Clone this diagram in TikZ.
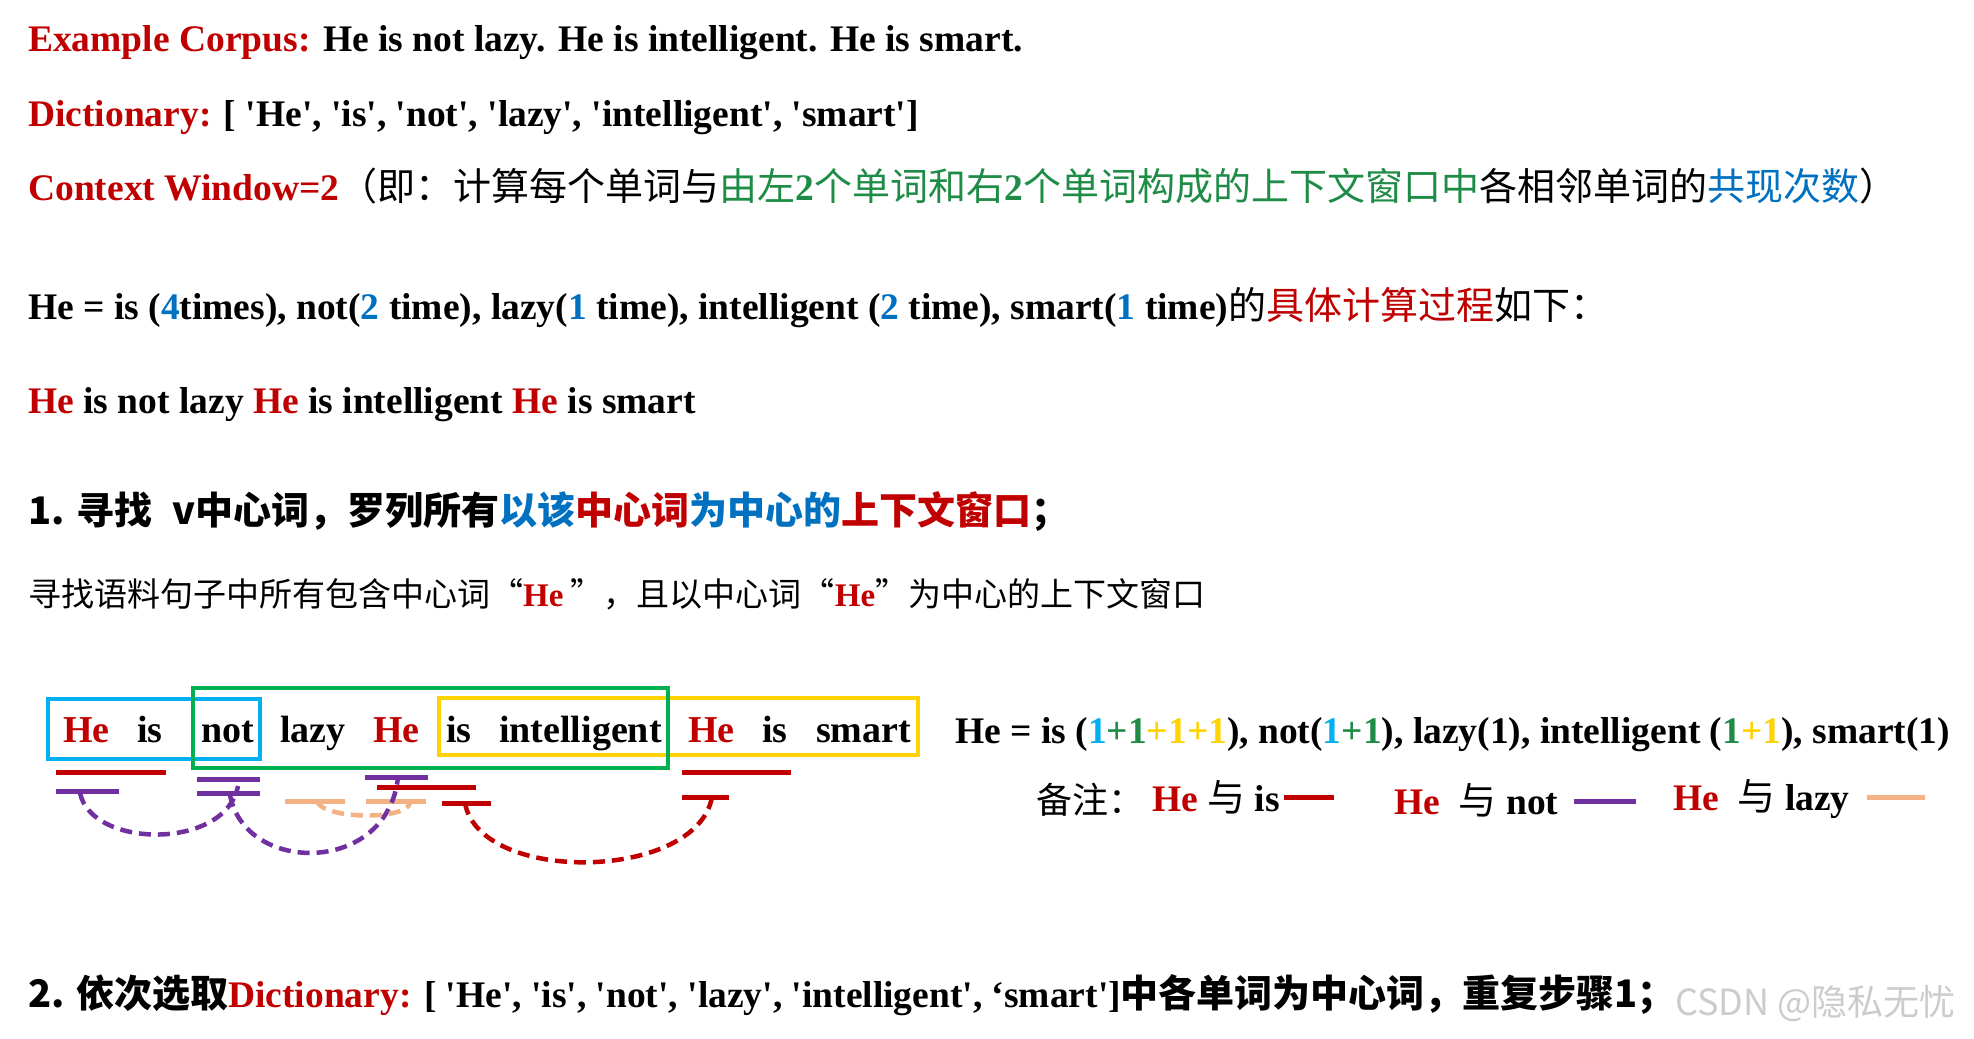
\documentclass[tikz,border=0pt]{standalone}
\usepackage{fontspec}
\setmainfont{Liberation Serif}
\newfontfamily\zh{Noto Sans CJK SC}

\definecolor{myred}{RGB}{192,0,0}
\definecolor{myblue}{RGB}{0,112,192}
\definecolor{mygreen}{RGB}{30,140,70}
\definecolor{boxblue}{RGB}{0,176,240}
\definecolor{boxgreen}{RGB}{0,176,80}
\definecolor{boxyellow}{RGB}{255,210,0}
\definecolor{mypurple}{RGB}{112,48,160}
\definecolor{mypeach}{RGB}{244,177,131}

\tikzset{
    line text/.style={anchor=base west, inner sep=0pt, font=\bfseries\fontsize{37.5}{40}\selectfont},
    word/.style={anchor=base west, inner sep=0pt, font=\bfseries\fontsize{38}{40}\selectfont},
    window/.style={draw, line width=4.5pt},
    pair bar/.style={line width=5pt},
    pair arc/.style={line width=4.5pt, dash pattern=on 12pt off 7pt},
}
\newcommand{\cn}[2][38]{{\zh\mdseries\fontsize{#1}{#1}\selectfont #2}}
\newcommand{\cnb}[2][38]{{\zh\bfseries\fontsize{#1}{#1}\selectfont #2}}
\newcommand{\sq}{\textquotesingle}
\newcommand{\pairbar}[4]{\draw[pair bar, #1] (#2,#4) -- (#3,#4);}

\begin{document}
\begin{tikzpicture}[x=1pt, y=-1pt]

    \path[use as bounding box, fill=white] (0,0) rectangle (1974,1039);

    % corpus, dictionary and window size
    \node[line text] (corpus) at (28,51) {\textcolor{myred}{Example Corpus:} He is not lazy. He is intelligent. He is smart.};
    \node[line text] (dict) at (28,126) {\textcolor{myred}{Dictionary:} [ \sq He\sq, \sq is\sq, \sq not\sq, \sq lazy\sq, \sq intelligent\sq, \sq smart\sq]};
    \node[line text] (ctx) at (28,200) {\textcolor{myred}{Context Window=2}\cn{（即：计算每个单词与}\textcolor{mygreen}{\cn{由左}2\cn{个单词和右}2\cn{个单词构成的上下文窗口中}}\cn{各相邻单词的}\textcolor{myblue}{\cn{共现次数}}\cn{）}};

    % counts for He
    \node[line text] (count) at (28,319) {He = is (\textcolor{myblue}{4}times), not(\textcolor{myblue}{2} time), lazy(\textcolor{myblue}{1} time), intelligent (\textcolor{myblue}{2} time), smart(\textcolor{myblue}{1} time)\cn{的}\textcolor{myred}{\cn{具体计算过程}}\cn{如下：}};
    \node[line text] (sentence) at (28,413) {\textcolor{myred}{He} is not lazy \textcolor{myred}{He} is intelligent \textcolor{myred}{He} is smart};

    % step 1
    \node[line text] (step1) at (28,524) {\cnb{1. 寻找\hspace{20pt}v中心词，罗列所有\textcolor{myblue}{以该}\textcolor{myred}{中心词}\textcolor{myblue}{为中心的}\textcolor{myred}{上下文窗口}；}};
    \node[line text, font=\bfseries\fontsize{33}{36}\selectfont] (step1 note) at (28,606) {\cn[33]{寻找语料句子中所有包含中心词“}\textcolor{myred}{He}\cn[33]{\ ”，且以中心词“}\textcolor{myred}{He}\cn[33]{”为中心的上下文窗口}};

    % sentence with the three windows round He
    \foreach \x/\w/\c [count=\i] in {63/He/myred, 137/is/black, 201/not/black, 280/lazy/black, 373/He/myred,
                                    446/is/black, 499/intelligent/black, 688/He/myred, 762/is/black, 816/smart/black}
        \node[word, text=\c] (w\i) at (\x,742) {\w};

    \draw[window, boxyellow] (439,698) rectangle (918,755);
    \draw[window, boxblue] (48,699) rectangle (260,759);
    \draw[window, boxgreen] (193,688) rectangle (668,768);

    % pair marks under the words
    \pairbar{myred}{56}{166}{772}
    \pairbar{mypurple}{56}{119}{791}
    \pairbar{mypurple}{197}{260}{779}
    \pairbar{mypurple}{197}{260}{793}
    \pairbar{mypeach}{285}{345}{801}
    \pairbar{mypurple}{365}{428}{777}
    \pairbar{myred}{377}{476}{787}
    \pairbar{mypeach}{366}{426}{801}
    \pairbar{myred}{442}{491}{803}
    \pairbar{myred}{682}{791}{772}
    \pairbar{myred}{682}{729}{797}

    \coordinate (he1 not) at (80,793);
    \coordinate (not he1) at (238,786);
    \coordinate (not he2) at (230,795);
    \coordinate (he2 not) at (398,777);
    \coordinate (lazy he2) at (317,801);
    \coordinate (he2 lazy) at (410,803);
    \coordinate (is he3) at (465,803);
    \coordinate (he3 is) at (712,797);

    \draw[pair arc, mypurple] (he1 not) .. controls +(12,56) and +(-12,64) .. (not he1);
    \draw[pair arc, mypurple] (not he2) .. controls +(15,80) and +(-10,98) .. (he2 not);
    \draw[pair arc, mypeach] (lazy he2) .. controls +(5,18) and +(-5,18) .. (he2 lazy);
    \draw[pair arc, myred] (is he3) .. controls +(15,82) and +(-15,84) .. (he3 is);

    % tally and key
    \node[line text] (tally) at (955,743) {He = is (\textcolor{boxblue}{1}\textcolor{mygreen}{+1}\textcolor{boxyellow}{+1+1}), not(\textcolor{boxblue}{1}\textcolor{mygreen}{+1}), lazy(1), intelligent (\textcolor{mygreen}{1}\textcolor{boxyellow}{+1}), smart(1)};
    \node[line text] (note) at (1036,813) {\cn[36]{备注：}};
    \node[line text] (key is) at (1152,811) {\textcolor{myred}{He} \cn{与} is};
    \pairbar{myred}{1284}{1334}{797}
    \node[line text] (key not) at (1394,814) {\textcolor{myred}{He}\ \ \cn{与} not};
    \pairbar{mypurple}{1574}{1636}{801}
    \node[line text] (key lazy) at (1673,810) {\textcolor{myred}{He}\ \ \cn{与} lazy};
    \pairbar{mypeach}{1867}{1925}{797}

    % step 2
    \node[line text] (step2) at (28,1007) {\cnb{2. 依次选取}\textcolor{myred}{Dictionary:} [ \sq He\sq, \sq is\sq, \sq not\sq, \sq lazy\sq, \sq intelligent\sq, ‘smart\sq]\cnb{中各单词为中心词，重复步骤1；}};
    \node[anchor=base west, inner sep=0pt, text=gray!40, font=\zh\fontsize{36}{36}\selectfont] (mark) at (1675,1015) {CSDN @隐私无忧};

\end{tikzpicture}
\end{document}
